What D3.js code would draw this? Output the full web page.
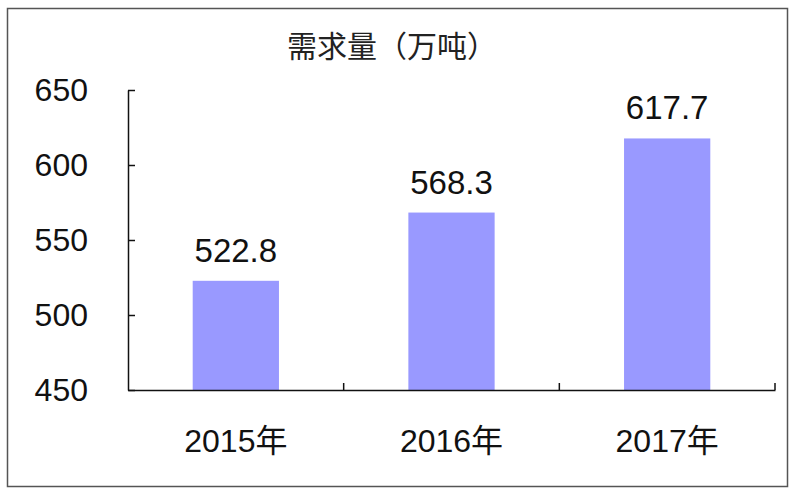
<!DOCTYPE html>
<html><head><meta charset="utf-8">
<script src="https://cdn.jsdelivr.net/npm/d3@7"></script>
<style>html,body{margin:0;padding:0;background:#fff;}</style>
</head><body>
<svg id="c" width="800" height="500"></svg>
<script>
const categories = ["2015年", "2016年", "2017年"];
const values = [522.8, 568.3, 617.7];
const yTicks = [450, 500, 550, 600, 650];
const title = "需求量（万吨）";

(function () {
const svg = d3.select("#c");
const font = "'Liberation Sans', Arial, 'Noto Sans CJK SC', sans-serif";

svg.append("rect").attr("x", 7.5).attr("y", 8.5).attr("width", 780).attr("height", 478)
  .attr("fill", "#fff").attr("stroke", "#555").attr("stroke-width", 1.5);

const pL = 128, pR = 775, pT = 90, pB = 390;
const x = d3.scaleBand().domain(categories).range([pL, pR]).paddingInner(0).paddingOuter(0);
const y = d3.scaleLinear().domain([450, 650]).range([pB, pT]);
const bw = x.bandwidth() * 0.4;

svg.append("text").attr("x", 392).attr("y", 57).attr("text-anchor", "middle")
  .attr("font-family", "'Noto Sans CJK SC', sans-serif").attr("font-size", 30).attr("fill", "#222")
  .text(title);

svg.selectAll("rect.bar").data(values).enter().append("rect").attr("class", "bar")
  .attr("x", (d, i) => x(categories[i]) + x.bandwidth() / 2 - bw / 2)
  .attr("y", d => y(d)).attr("width", bw).attr("height", d => pB - y(d))
  .attr("fill", "#9999ff");

svg.selectAll("text.val").data(values).enter().append("text").attr("class", "val")
  .attr("x", (d, i) => x(categories[i]) + x.bandwidth() / 2)
  .attr("y", d => y(d) - 19).attr("text-anchor", "middle")
  .attr("font-family", font).attr("font-size", 33).attr("fill", "#111")
  .text(d => d.toFixed(1));

const ya = svg.append("g").attr("transform", `translate(${pL},0)`)
  .call(d3.axisLeft(y).tickValues(yTicks).tickSize(-7).tickPadding(40).tickSizeOuter(0));
ya.select(".domain").attr("stroke", "#111").attr("stroke-width", 1.5);
ya.selectAll(".tick line").attr("stroke", "#111").attr("stroke-width", 1.5);
ya.selectAll(".tick text").attr("font-family", font).attr("font-size", 32).attr("fill", "#111");

const xa = svg.append("g").attr("transform", `translate(0,${pB})`)
  .call(d3.axisBottom(x).tickSize(0).tickPadding(36).tickSizeOuter(0));
xa.select(".domain").attr("stroke", "#111").attr("stroke-width", 1.5);
xa.selectAll(".tick text").attr("y", 62).attr("dy", 0)
  .attr("font-family", font).attr("font-size", 32).attr("fill", "#111");
const bounds = categories.map(c => x(c) + x.bandwidth());
svg.selectAll("line.xt").data(bounds).enter().append("line").attr("class", "xt")
  .attr("x1", d => d).attr("x2", d => d).attr("y1", pB).attr("y2", pB - 7)
  .attr("stroke", "#111").attr("stroke-width", 1.5);
})();
</script>
</body></html>
